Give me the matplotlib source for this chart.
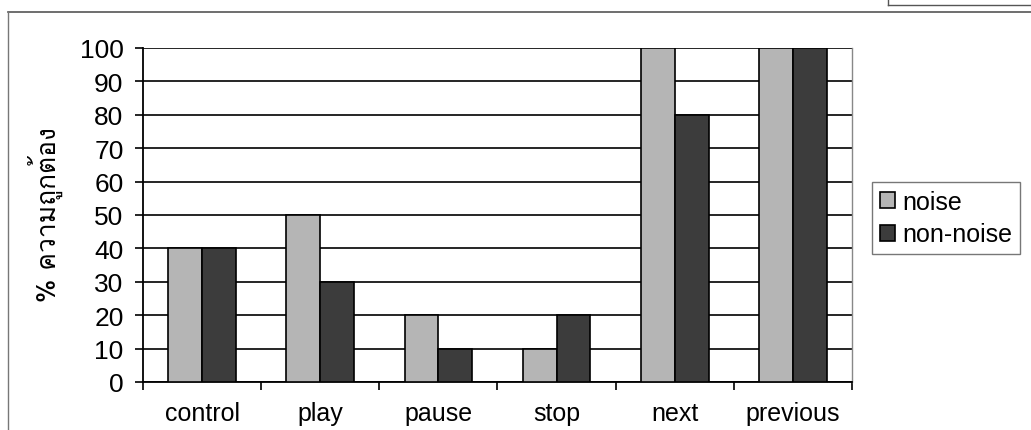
import matplotlib
matplotlib.use('Agg')
import matplotlib.pyplot as plt
import numpy as np
from matplotlib import font_manager
from matplotlib.ft2font import FT2Font
from matplotlib.lines import Line2D

# data
categories = ['control', 'play', 'pause', 'stop', 'next', 'previous']
noise = [40, 50, 20, 10, 100, 100]
non_noise = [40, 30, 10, 20, 80, 100]
series_labels = ['noise', 'non-noise']
ylabel = '% ความถูกต้อง'

# find a font with Thai glyphs
thai_font = None
for f in font_manager.fontManager.ttflist:
    try:
        ft = FT2Font(f.fname)
        if ft.get_char_index(0x0E01) and ft.get_char_index(0x0E49):
            thai_font = f.name
            break
    except Exception:
        pass

plt.rcParams['font.family'] = ['Liberation Sans', 'DejaVu Sans']

fig = plt.figure(figsize=(10.31, 4.31), dpi=100)
ax = fig.add_axes([143/1031, 48/431, (852-143)/1031, (383-49)/431])

x = np.arange(len(categories))
w = 1/3.5
ax.bar(x - w/2, noise, w, color='#b5b5b5', edgecolor='black', linewidth=1.2, label=series_labels[0], zorder=3)
ax.bar(x + w/2, non_noise, w, color='#3c3c3c', edgecolor='black', linewidth=1.2, label=series_labels[1], zorder=3)

ax.set_xlim(-0.5, len(categories) - 0.5)
ax.set_ylim(0, 100)
ax.set_yticks(range(0, 101, 10))
ax.yaxis.grid(True, color='black', linewidth=1.2, zorder=0)
ax.set_xticks(x)
ax.set_xticklabels(categories)
ax.set_xticks(np.arange(-0.5, len(categories), 1), minor=True)
ax.tick_params(axis='x', which='major', length=0, labelsize=18, pad=14)
ax.tick_params(axis='x', which='minor', length=6, width=1.2, direction='out')
ax.tick_params(axis='y', length=6, width=1.2, direction='out', labelsize=19, pad=8)

for s in ['left', 'bottom']:
    ax.spines[s].set_linewidth(1.3)
ax.spines['right'].set_color('#888888')
ax.spines['right'].set_linewidth(1.0)
ax.spines['top'].set_visible(False)

lab_kw = dict(fontsize=19)
if thai_font:
    lab_kw['family'] = [thai_font, 'Liberation Sans', 'DejaVu Sans']
fig.text(45/1031, 1 - 215/431, ylabel, rotation=90, ha='center', va='center', **lab_kw)

leg = ax.legend(loc='center left', bbox_to_anchor=(872/1031, 1 - 219/431), bbox_transform=fig.transFigure,
                fontsize=18, frameon=True, fancybox=False, edgecolor='#555555',
                handlelength=0.6, handleheight=0.6, handletextpad=0.3, borderpad=0.3, labelspacing=0.35,
                borderaxespad=0)
leg.get_frame().set_linewidth(1.0)

# outer chart frame as in the scan
fig.add_artist(Line2D([8/1031, 1], [1 - 13/431, 1 - 13/431], transform=fig.transFigure, color='#555555', lw=1.2))
fig.add_artist(Line2D([8/1031, 8/1031], [1 - 13/431, 0], transform=fig.transFigure, color='#777777', lw=1.0))
fig.add_artist(Line2D([888/1031, 1], [1 - 6/431, 1 - 6/431], transform=fig.transFigure, color='#555555', lw=1.0))
fig.add_artist(Line2D([888/1031, 888/1031], [1, 1 - 6/431], transform=fig.transFigure, color='#555555', lw=1.0))

fig.savefig('out.png', dpi=100)
